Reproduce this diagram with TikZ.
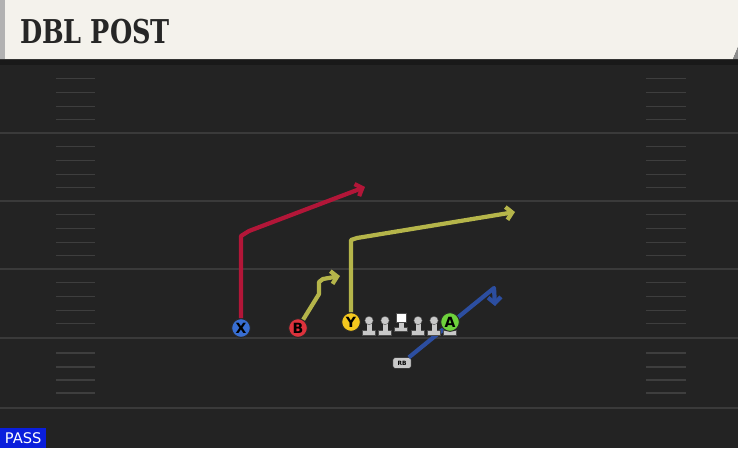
\documentclass[tikz,border=0pt]{standalone}
\usepackage{fontspec}
\usepackage{tikz}
\usetikzlibrary{arrows.meta, positioning, calc}
\newfontfamily\titlefont{DejaVu Serif}
\newfontfamily\playerfont{DejaVu Sans}
\definecolor{Field}{RGB}{35,35,35}
\definecolor{Yard}{RGB}{58,58,58}
\definecolor{Hash}{RGB}{62,62,62}
\definecolor{Header}{RGB}{244,242,236}
\definecolor{Crimson}{RGB}{178,22,56}
\definecolor{Olive}{RGB}{181,181,74}
\definecolor{Navy}{RGB}{44,78,160}
\definecolor{XBlue}{RGB}{56,110,210}
\definecolor{BRed}{RGB}{220,50,60}
\definecolor{YGold}{RGB}{245,200,30}
\definecolor{AGreen}{RGB}{110,210,60}
\definecolor{Lineman}{RGB}{200,200,200}
\definecolor{PassBlue}{RGB}{10,30,220}

\begin{document}
\begin{tikzpicture}[x=0.03cm, y=-0.03cm,
    player/.style={circle, draw=black!85, line width=0.8pt, minimum size=0.56cm, inner sep=0pt,
        font=\playerfont\bfseries\fontsize{12}{12}\selectfont},
    route/.style={line width=3.6pt, line join=round, -{Straight Barb[length=5pt, width=11pt]}},
    yardline/.style={Yard, line width=1.4pt},
    hashmark/.style={Hash, line width=1pt}]
    \useasboundingbox (0,0) rectangle (738,448);

    % Field
    \fill[Field] (0,0) rectangle (738,448);
    \foreach \y in {133,201,269,338,408}
        \draw[yardline] (0,\y) -- (738,\y);
    \foreach \b in {65,133,201,269} {
        \foreach \k in {1,...,4} {
            \draw[hashmark] (56,\b+13.7*\k) -- (95,\b+13.7*\k);
            \draw[hashmark] (646,\b+13.7*\k) -- (686,\b+13.7*\k);
        }
    }
    \foreach \y in {353,367,380,393} {
        \draw[hashmark] (56,\y) -- (95,\y);
        \draw[hashmark] (646,\y) -- (686,\y);
    }

    % Header
    \fill[black!90] (0,59) rectangle (738,65);
    \fill[Header] (0,0) -- (738,0) -- (738,47) -- (733,59) -- (0,59) -- cycle;
    \fill[black!30] (0,0) rectangle (5,59);
    \fill[black!45] (738,47) -- (738,59) -- (733,59) -- cycle;
    \node[anchor=west, inner sep=0pt, text=black!85, xscale=0.78] (title) at (20,32)
        {\titlefont\bfseries\fontsize{28}{28}\selectfont DBL POST};

    % Running back and his route, under the line
    \node[draw=black!85, fill=Lineman, rounded corners=2pt, minimum width=0.55cm, minimum height=0.32cm,
        inner sep=0pt, font=\playerfont\bfseries\fontsize{5}{5}\selectfont] (RB) at (402,363) {RB};
    \coordinate (rbbreak) at (494,288);
    \coordinate (rbend) at (495,306);
    \draw[route, Navy] (RB) -- (rbbreak) -- (rbend);

    % Line
    \foreach \x in {369,385,418,434} {
        \fill[Lineman, draw=black!70, line width=0.3pt] (\x-6.5,330) rectangle (\x+6.5,335);
        \fill[Lineman] (\x-2.5,322) rectangle (\x+2.5,331);
        \fill[Lineman, draw=black!70, line width=0.3pt] (\x,320.5) circle (4.2);
    }
    \fill[Lineman, draw=black!70, line width=0.3pt] (394.5,327) rectangle (407.5,331.5);
    \fill[Lineman] (398.5,320) rectangle (403.5,328);
    \fill[white, draw=black!70, line width=0.3pt] (396,313) rectangle (406,322);
    \fill[Lineman, draw=black!70, line width=0.3pt] (443.5,330) rectangle (456.5,335);

    % Players
    \node[player, fill=XBlue] (X) at (241,328) {X};
    \node[player, fill=BRed] (B) at (298,328) {B};
    \node[player, fill=YGold] (Y) at (351,322) {Y};
    \node[player, fill=AGreen] (A) at (450,322) {A};

    % Route breaks
    \coordinate (xbreak) at (241,236);
    \coordinate (xend) at (365,187);
    \coordinate (ystem) at (319,294);
    \coordinate (yplant) at (319,282);
    \coordinate (yout) at (340,276);
    \coordinate (ybreak) at (351,240);
    \coordinate (yend) at (515,212);

    % Routes
    \draw[route, Crimson] (X) -- (xbreak) -- ++(8,-5) -- (xend);
    \draw[route, Olive] (B) -- (ystem) -- (yplant) -- ++(4,-3) -- (yout);
    \draw[route, Olive] (Y) -- (ybreak) -- ++(6,-2) -- (yend);

    % Play type
    \node[fill=PassBlue, text=white, anchor=south west, minimum width=1.38cm, minimum height=0.6cm,
        inner sep=0pt, font=\playerfont\fontsize{12.5}{12.5}\selectfont] (pass) at (0,448) {PASS};
\end{tikzpicture}
\end{document}
